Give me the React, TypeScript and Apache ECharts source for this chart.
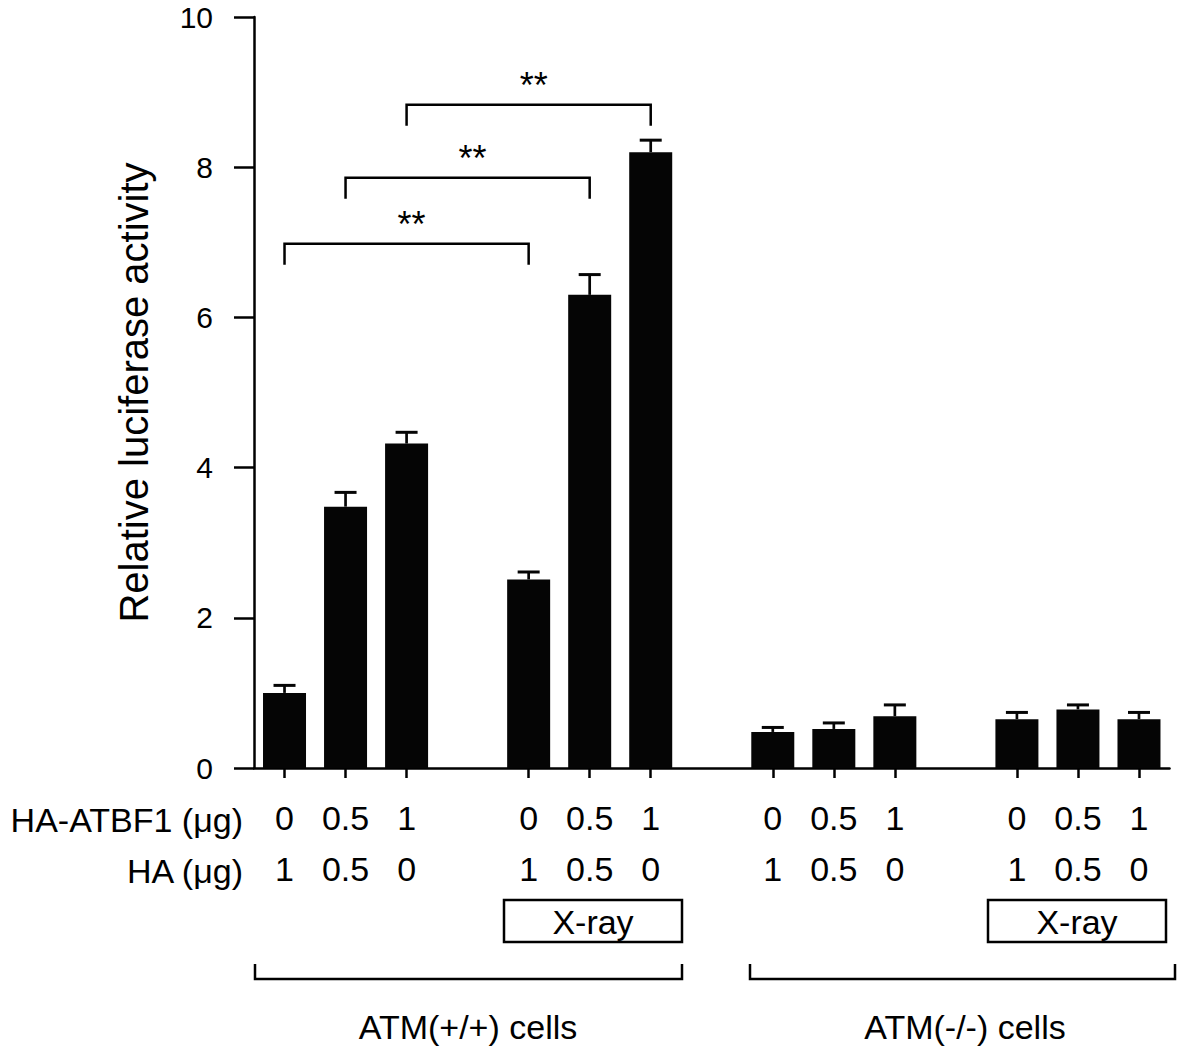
import React, { useEffect, useRef } from "react";
import * as echarts from "echarts";

// ---- Data ----
const categories = [
  "WT-0", "WT-0.5", "WT-1", "gap-a",
  "WTX-0", "WTX-0.5", "WTX-1", "gap-b",
  "KO-0", "KO-0.5", "KO-1", "gap-c",
  "KOX-0", "KOX-0.5", "KOX-1",
];
const atbf1Labels = ["0", "0.5", "1", "", "0", "0.5", "1", "", "0", "0.5", "1", "", "0", "0.5", "1"];
const haLabels = ["1", "0.5", "0", "", "1", "0.5", "0", "", "1", "0.5", "0", "", "1", "0.5", "0"];
const means = [1.0, 3.48, 4.32, null, 2.51, 6.3, 8.2, null, 0.48, 0.52, 0.69, null, 0.65, 0.78, 0.65];
const errors = [0.1, 0.19, 0.15, null, 0.1, 0.27, 0.16, null, 0.06, 0.08, 0.15, null, 0.09, 0.06, 0.09];
// significance brackets: [from category index, to category index, bracket height]
const brackets = [
  [0, 4, 6.98],
  [1, 5, 7.86],
  [2, 6, 8.83],
];
const yTicks = { min: 0, max: 10, interval: 2 };

const FONT = "Liberation Sans, Arial, Helvetica, sans-serif";

export default function App() {
  const ref = useRef<HTMLDivElement>(null);

  useEffect(() => {
    if (!ref.current) return;
    const chart = echarts.init(ref.current, null, { renderer: "svg" });

    const errData = means
      .map((m, i) => (m == null ? null : [i, m, (m as number) + (errors[i] as number)]))
      .filter((d) => d != null);

    const option: any = {
      animation: false,
      backgroundColor: "#ffffff",
      grid: { left: 254, right: 30.5, top: 17, bottom: 287, containLabel: false },
      xAxis: [
        {
          type: "category",
          data: categories,
          position: "bottom",
          axisLine: { show: true, lineStyle: { color: "#000", width: 2.5 } },
          axisTick: {
            show: true,
            alignWithLabel: true,
            length: 10,
            interval: (idx: number) => atbf1Labels[idx] !== "",
            lineStyle: { color: "#000", width: 2.5 },
          },
          axisLabel: {
            interval: 0,
            margin: 33,
            color: "#000",
            fontFamily: FONT,
            fontSize: 34,
            formatter: (_v: string, idx: number) => atbf1Labels[idx],
          },
          splitLine: { show: false },
        },
        {
          type: "category",
          data: categories,
          position: "bottom",
          offset: 51,
          axisLine: { show: false },
          axisTick: { show: false },
          axisLabel: {
            interval: 0,
            margin: 33,
            color: "#000",
            fontFamily: FONT,
            fontSize: 34,
            formatter: (_v: string, idx: number) => haLabels[idx],
          },
          splitLine: { show: false },
        },
      ],
      yAxis: {
        type: "value",
        min: yTicks.min,
        max: yTicks.max,
        interval: yTicks.interval,
        name: "Relative luciferase activity",
        nameLocation: "middle",
        nameGap: 100,
        nameTextStyle: { color: "#000", fontFamily: FONT, fontSize: 40 },
        axisLine: { show: true, lineStyle: { color: "#000", width: 2.5 } },
        axisTick: { show: true, length: 20, lineStyle: { color: "#000", width: 2.5 } },
        axisLabel: { margin: 41, color: "#000", fontFamily: FONT, fontSize: 30, lineHeight: 30 },
        splitLine: { show: false },
      },
      series: [
        {
          type: "bar",
          data: means.map((m) => (m == null ? "-" : m)),
          barWidth: 43,
          itemStyle: { color: "#050505" },
          silent: true,
        },
        {
          type: "custom",
          data: errData,
          encode: { x: 0, y: [1, 2] },
          silent: true,
          z: 3,
          renderItem: (_params: any, api: any) => {
            const x = api.value(0);
            const base = api.coord([x, api.value(1)]);
            const top = api.coord([x, api.value(2)]);
            const half = 11;
            return {
              type: "group",
              children: [
                {
                  type: "line",
                  shape: { x1: base[0], y1: base[1], x2: top[0], y2: top[1] },
                  style: { stroke: "#050505", lineWidth: 2.7 },
                },
                {
                  type: "line",
                  shape: { x1: top[0] - half, y1: top[1], x2: top[0] + half, y2: top[1] },
                  style: { stroke: "#050505", lineWidth: 3 },
                },
              ],
            };
          },
        },
        {
          type: "custom",
          data: brackets,
          encode: { x: [0, 1], y: 2 },
          silent: true,
          z: 3,
          renderItem: (_params: any, api: any) => {
            const yv = api.value(2);
            const p1 = api.coord([api.value(0), yv]);
            const p2 = api.coord([api.value(1), yv]);
            const leg = 21;
            return {
              type: "group",
              children: [
                {
                  type: "polyline",
                  shape: {
                    points: [
                      [p1[0], p1[1] + leg],
                      [p1[0], p1[1]],
                      [p2[0], p2[1]],
                      [p2[0], p2[1] + leg],
                    ],
                  },
                  style: { stroke: "#000", lineWidth: 2.5, fill: "none" },
                },
                {
                  type: "text",
                  x: (p1[0] + p2[0]) / 2 + 5,
                  y: p1[1] - 1,
                  style: {
                    text: "**",
                    fontFamily: FONT,
                    fontSize: 36,
                    fill: "#000",
                    textAlign: "center",
                    textVerticalAlign: "bottom",
                  },
                },
              ],
            };
          },
        },
      ],
      graphic: [
        {
          type: "text",
          x: 243,
          y: 820,
          style: { text: "HA-ATBF1 (μg)", fontFamily: FONT, fontSize: 34, fill: "#000", textAlign: "right", textVerticalAlign: "middle" },
        },
        {
          type: "text",
          x: 243,
          y: 871,
          style: { text: "HA (μg)", fontFamily: FONT, fontSize: 34, fill: "#000", textAlign: "right", textVerticalAlign: "middle" },
        },
        {
          type: "rect",
          shape: { x: 504, y: 900, width: 178, height: 42 },
          style: { stroke: "#000", lineWidth: 2.5, fill: "none" },
        },
        {
          type: "text",
          x: 593,
          y: 922,
          style: { text: "X-ray", fontFamily: FONT, fontSize: 34, fill: "#000", textAlign: "center", textVerticalAlign: "middle" },
        },
        {
          type: "rect",
          shape: { x: 988, y: 900, width: 178, height: 42 },
          style: { stroke: "#000", lineWidth: 2.5, fill: "none" },
        },
        {
          type: "text",
          x: 1077,
          y: 922,
          style: { text: "X-ray", fontFamily: FONT, fontSize: 34, fill: "#000", textAlign: "center", textVerticalAlign: "middle" },
        },
        {
          type: "polyline",
          shape: { points: [[255, 964], [255, 979], [682, 979], [682, 964]] },
          style: { stroke: "#000", lineWidth: 2.5, fill: "none" },
        },
        {
          type: "polyline",
          shape: { points: [[750, 964], [750, 979], [1175, 979], [1175, 964]] },
          style: { stroke: "#000", lineWidth: 2.5, fill: "none" },
        },
        {
          type: "text",
          x: 468,
          y: 1027,
          style: { text: "ATM(+/+) cells", fontFamily: FONT, fontSize: 34, fill: "#000", textAlign: "center", textVerticalAlign: "middle" },
        },
        {
          type: "text",
          x: 965,
          y: 1027,
          style: { text: "ATM(-/-) cells", fontFamily: FONT, fontSize: 34, fill: "#000", textAlign: "center", textVerticalAlign: "middle" },
        },
      ],
    };

    chart.setOption(option);
    return () => chart.dispose();
  }, []);

  return (
    <div
      ref={ref}
      style={{ position: "fixed", left: 0, top: 0, width: 1200, height: 1055, background: "#fff" }}
    />
  );
}
